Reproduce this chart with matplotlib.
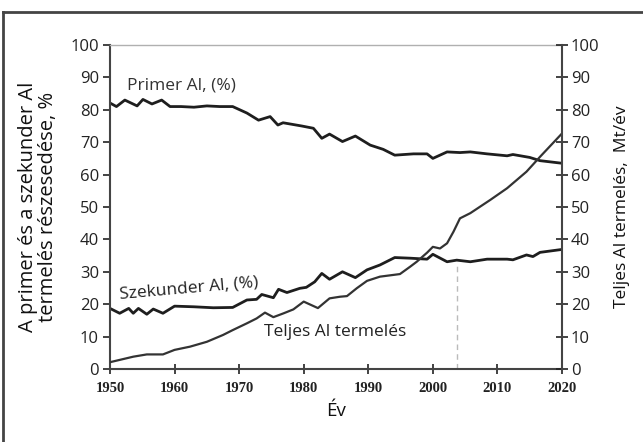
import matplotlib.pyplot as plt
from matplotlib.lines import Line2D

plt.rcParams.update({
    "font.family": ["Open Sans", "DejaVu Sans"],
    "font.size": 12,
    "font.weight": "medium",
})

# -------- data --------
primer_years = [1950, 1951, 1952.3, 1954.2, 1955.1, 1956.5, 1958, 1959.3, 1961, 1963,
                1965, 1967, 1969, 1971.2, 1973, 1974.8, 1976, 1976.8, 1979.7, 1981.5,
                1982.8, 1984, 1986, 1988, 1990.3, 1992.3, 1994.1, 1997, 1999.1, 2000,
                2002.2, 2004.2, 2005.8, 2008.4, 2011.5, 2012.4, 2015, 2016.6, 2020]
primer = [82.1, 81.0, 83.0, 81.2, 83.2, 81.8, 83.0, 81.0, 81.0, 80.8,
          81.2, 81.0, 81.0, 79.0, 76.8, 77.9, 75.3, 76.0, 75.0, 74.3,
          71.2, 72.5, 70.2, 71.9, 69.1, 67.8, 66.0, 66.4, 66.4, 65.0,
          67.0, 66.8, 67.0, 66.4, 65.8, 66.2, 65.3, 64.3, 63.5]

szekunder_years = [1950, 1951.5, 1952.9, 1953.6, 1954.4, 1955.7, 1956.7, 1958.2, 1960, 1963,
                   1966, 1969, 1971.2, 1972.7, 1973.5, 1975.3, 1976.1, 1977.4, 1979.4, 1980.4,
                   1981.7, 1982.8, 1984, 1986, 1988, 1989.8, 1991.8, 1994.1, 1996.5, 1999.1,
                   2000, 2002.2, 2003.7, 2005.8, 2008.4, 2011.5, 2012.4, 2014.5, 2015.5, 2016.6,
                   2020]
szekunder = [18.7, 17.2, 18.7, 17.2, 18.7, 16.9, 18.5, 17.2, 19.4, 19.2,
             18.9, 19.0, 21.3, 21.5, 23.0, 22.0, 24.6, 23.6, 24.9, 25.2,
             26.9, 29.5, 27.7, 30.0, 28.2, 30.6, 32.1, 34.4, 34.2, 33.9,
             35.4, 33.1, 33.6, 33.1, 33.9, 33.9, 33.7, 35.2, 34.7, 36.0,
             36.9]

teljes_years = [1950, 1953.6, 1955.7, 1958.2, 1960, 1962.4, 1965, 1967.5, 1969, 1971.2,
                1972.7, 1974, 1975.3, 1976.9, 1978.4, 1980, 1982.2, 1984, 1985.6, 1986.7,
                1988.2, 1989.8, 1991.8, 1994.9, 1996.5, 1997.5, 1999.1, 2000, 2001.1, 2002.2,
                2003.2, 2004.2, 2005.8, 2008.9, 2011.5, 2014.5, 2016.6, 2020]
teljes = [2.1, 3.8, 4.5, 4.5, 5.9, 6.9, 8.4, 10.5, 12.0, 14.1,
          15.6, 17.4, 16.0, 17.2, 18.4, 20.8, 18.8, 21.8, 22.3, 22.5,
          24.9, 27.2, 28.5, 29.3, 31.6, 33.1, 35.9, 37.7, 37.2, 38.8,
          42.4, 46.5, 48.1, 52.2, 55.8, 60.9, 65.5, 72.7]

x_ticks = [1950, 1960, 1970, 1980, 1990, 2000, 2010, 2020]
y_ticks = [0, 10, 20, 30, 40, 50, 60, 70, 80, 90, 100]

fig = plt.figure(figsize=(6.43, 4.42), dpi=100)
ax = fig.add_axes([110 / 643, 73 / 442, 452 / 643, 324 / 442])

ax.plot(primer_years, primer, color="#1e1e1e", linewidth=2.0)
ax.plot(szekunder_years, szekunder, color="#1e1e1e", linewidth=2.0)

# dashed marker near 2004
ax.plot([2003.7, 2003.7], [0, 33], color="#bbbbbb", linewidth=1, linestyle=(0, (4, 3)))

ax.set_xlim(1950, 2020)
ax.set_ylim(0, 100)
ax.set_xticks(x_ticks)
ax.set_yticks(y_ticks)
ax.set_xticklabels([str(t) for t in x_ticks], family=["Liberation Serif"],
                   fontsize=10.5, fontweight="bold")
ax.tick_params(axis="y", direction="out", length=5, width=1.2, colors="#222222",
               labelsize=12, pad=3)
ax.tick_params(axis="x", direction="inout", length=7, width=1.2, colors="#222222", pad=6)

for s in ["left", "bottom"]:
    ax.spines[s].set_color("#444444")
    ax.spines[s].set_linewidth(1.5)
ax.spines["top"].set_color("#b0b0b0")
ax.spines["top"].set_linewidth(1.0)
ax.spines["right"].set_visible(False)

ax.set_xlabel("Év", fontsize=13.5, color="#111111", labelpad=5)
ax.set_ylabel("A primer és a szekunder Al\ntermelés részesedése, %",
              fontsize=14.5, color="#111111", labelpad=9, linespacing=1.0)

# -------- right axis --------
ax2 = ax.twinx()
ax2.plot(teljes_years, teljes, color="#333333", linewidth=1.6)
ax2.set_ylim(0, 100)
ax2.set_yticks(y_ticks)
ax2.tick_params(axis="y", direction="inout", length=9, width=1.2, colors="#222222",
                labelsize=12, pad=2)
ax2.spines["right"].set_color("#444444")
ax2.spines["right"].set_linewidth(1.5)
for s in ["left", "top", "bottom"]:
    ax2.spines[s].set_visible(False)
ax2.set_ylabel("Teljes Al termelés,  Mt/év", fontsize=12.5, color="#111111", labelpad=10)

# -------- in-plot labels --------
ax.text(1952.7, 87.5, "Primer Al, (%)", fontsize=12.5, color="#333333", va="center")
ax.text(1951.4, 23.0, "Szekunder Al, (%)", fontsize=12.5, color="#222222",
        va="center", rotation=5, rotation_mode="anchor")
ax.text(1973.8, 11.5, "Teljes Al termelés", fontsize=12.5, color="#222222", va="center")

# outer frame (top and left edges only)
fig.add_artist(Line2D([3 / 643, 1.0], [1 - 12 / 442, 1 - 12 / 442],
                      color="#444444", linewidth=2, transform=fig.transFigure))
fig.add_artist(Line2D([3 / 643, 3 / 643], [0, 1 - 12 / 442],
                      color="#444444", linewidth=2, transform=fig.transFigure))

fig.savefig("out.png", dpi=100)
